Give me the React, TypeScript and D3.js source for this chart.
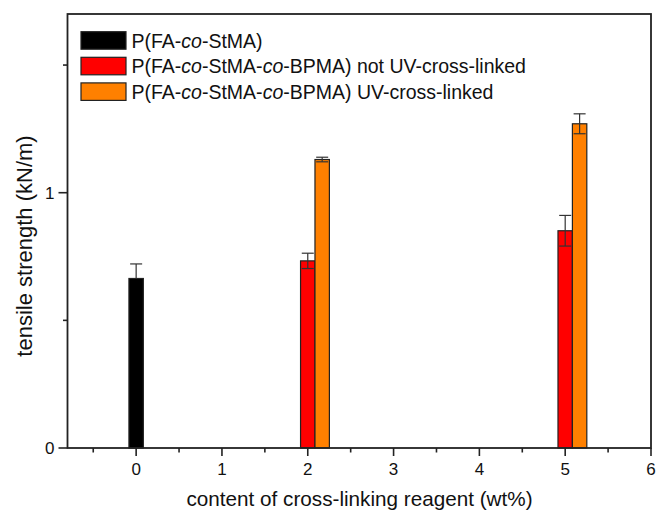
import React from "react";
import * as d3 from "d3";

// Tensile strength vs. content of cross-linking reagent
const pureX = [0];
const pureValues = [0.664];
const pureErrors = [0.057];

const linkerX = [2, 5];
const notCrossLinked = [0.733, 0.851];
const notCrossLinkedErr = [0.03, 0.06];
const crossLinked = [1.13, 1.27];
const crossLinkedErr = [0.009, 0.039];

const xTicks = [0, 1, 2, 3, 4, 5, 6];
const xMinorTicks = [-0.5, 0.5, 1.5, 2.5, 3.5, 4.5, 5.5];
const yTicks = [0, 1];
const yMinorTicks = [0.5, 1.5];

const legendItems = [
  { color: "#000000", parts: [["P(FA-", false], ["co", true], ["-StMA)", false]] },
  { color: "#ff0000", parts: [["P(FA-", false], ["co", true], ["-StMA-", false], ["co", true], ["-BPMA) not UV-cross-linked", false]] },
  { color: "#ff8000", parts: [["P(FA-", false], ["co", true], ["-StMA-", false], ["co", true], ["-BPMA) UV-cross-linked", false]] },
];

const W = 656;
const H = 516;
const M = { left: 67.5, right: 5, top: 14, bottom: 68 };
const FONT = "'Liberation Sans', Arial, Helvetica, sans-serif";
const AXIS = "#222";

export default function App() {
  const x = d3.scaleLinear().domain([-0.8, 6]).range([M.left, W - M.right]);
  const y = d3.scaleLinear().domain([0, 1.7]).range([H - M.bottom, M.top]);
  const bw = 0.168;
  const bwPx = x(bw) - x(0);

  const bars: { x0: number; v: number; e: number; color: string }[] = [];
  pureX.forEach((c, i) => bars.push({ x0: c - bw / 2, v: pureValues[i], e: pureErrors[i], color: "#000000" }));
  linkerX.forEach((c, i) => {
    bars.push({ x0: c - bw / 2, v: notCrossLinked[i], e: notCrossLinkedErr[i], color: "#ff0000" });
    bars.push({ x0: c + bw / 2, v: crossLinked[i], e: crossLinkedErr[i], color: "#ff8000" });
  });

  const y0 = y(0);
  const capHalf = 6;

  return (
    <svg width={W} height={H} style={{ position: "absolute", left: 0, top: 0, background: "#fff" }} fontFamily={FONT}>
      <rect x={0} y={0} width={W} height={H} fill="#fff" />
      {/* bars */}
      {bars.map((b, i) => (
        <rect
          key={"b" + i}
          x={x(b.x0)}
          y={y(b.v)}
          width={bwPx}
          height={y0 - y(b.v)}
          fill={b.color}
          stroke="#222"
          strokeWidth={1.2}
        />
      ))}
      {/* error bars; the lower arm disappears inside the black bar */}
      {bars.map((b, i) => {
        const cx = x(b.x0) + bwPx / 2;
        const dark = b.color === "#000000";
        return (
          <g key={"e" + i} stroke="#333" strokeWidth={1.2}>
            <line x1={cx} x2={cx} y1={dark ? y(b.v) : y(b.v - b.e)} y2={y(b.v + b.e)} />
            <line x1={cx - capHalf} x2={cx + capHalf} y1={y(b.v + b.e)} y2={y(b.v + b.e)} />
            {!dark && <line x1={cx - capHalf} x2={cx + capHalf} y1={y(b.v - b.e)} y2={y(b.v - b.e)} />}
          </g>
        );
      })}

      {/* frame */}
      <rect x={M.left} y={M.top} width={W - M.right - M.left} height={y0 - M.top} fill="none" stroke={AXIS} strokeWidth={1.8} />

      {/* x ticks */}
      {xTicks.map((t) => (
        <g key={"xt" + t}>
          <line x1={x(t)} x2={x(t)} y1={y0} y2={y0 + 8} stroke={AXIS} strokeWidth={1.6} />
          <text x={x(t)} y={y0 + 27} textAnchor="middle" fontSize={17} fill="#111">{t}</text>
        </g>
      ))}
      {xMinorTicks.map((t) => (
        <line key={"xm" + t} x1={x(t)} x2={x(t)} y1={y0} y2={y0 + 4.5} stroke={AXIS} strokeWidth={1.6} />
      ))}
      {/* y ticks */}
      {yTicks.map((t) => (
        <g key={"yt" + t}>
          <line x1={M.left - 9} x2={M.left} y1={y(t)} y2={y(t)} stroke={AXIS} strokeWidth={1.6} />
          <text x={M.left - 13} y={y(t)} dy="0.36em" textAnchor="end" fontSize={17} fill="#111">{t}</text>
        </g>
      ))}
      {yMinorTicks.map((t) => (
        <line key={"ym" + t} x1={M.left - 4.5} x2={M.left} y1={y(t)} y2={y(t)} stroke={AXIS} strokeWidth={1.6} />
      ))}

      {/* axis titles */}
      <text x={359.5} y={506} textAnchor="middle" fontSize={20.7} fill="#111">
        content of cross-linking reagent (wt%)
      </text>
      <text
        transform={`translate(32,${246}) rotate(-90)`}
        textAnchor="middle"
        fontSize={22}
        fill="#111"
      >
        tensile strength (kN/m)
      </text>

      {/* legend */}
      {legendItems.map((item, i) => {
        const top = 31.7 + i * 25.6;
        return (
          <g key={"lg" + i}>
            <rect x={81} y={top} width={45} height={17.5} fill={item.color} stroke="#222" strokeWidth={1.2} />
            <text x={131.5} y={top + 15.8} fontSize={19.5} fill="#111">
              {item.parts.map(([s, it], j) => (
                <tspan key={j} fontStyle={it ? "italic" : "normal"}>{s as string}</tspan>
              ))}
            </text>
          </g>
        );
      })}
    </svg>
  );
}
